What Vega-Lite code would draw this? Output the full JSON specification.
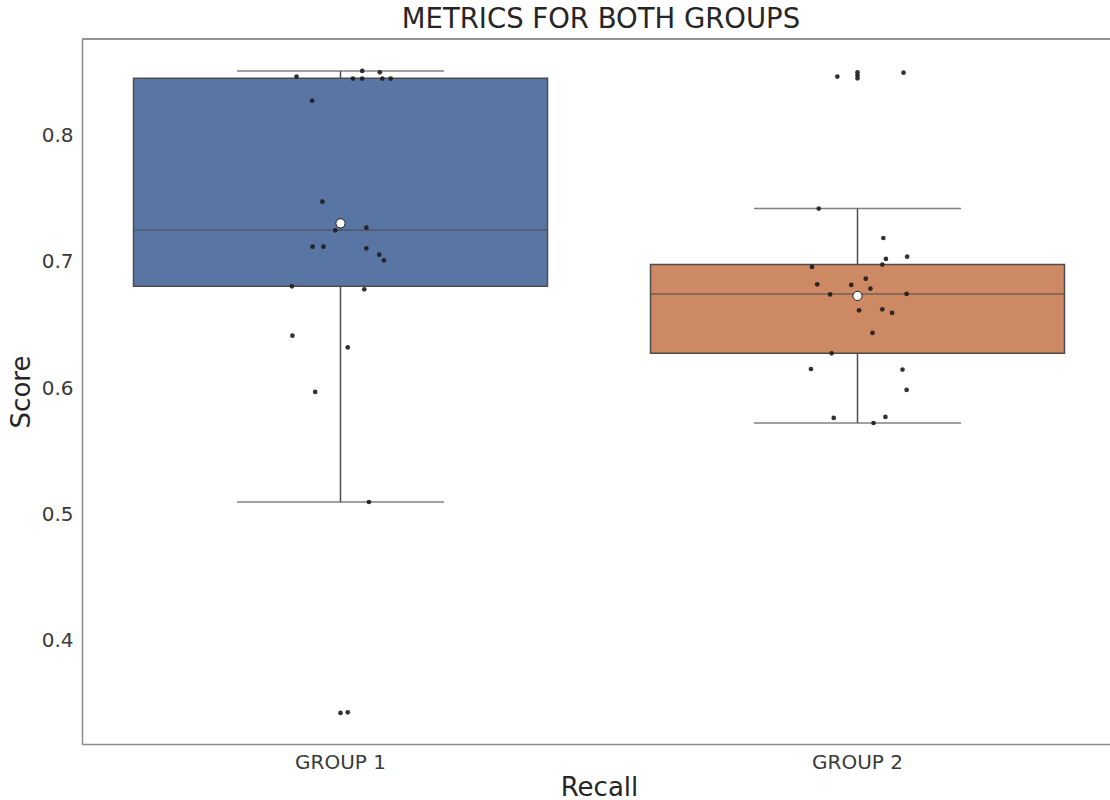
{
  "$schema": "https://vega.github.io/schema/vega-lite/v6.json",
  "autosize": {"type": "none"},
  "width": 1028,
  "height": 705,
  "padding": {"left": 82, "top": 39, "right": 0, "bottom": 56},
  "background": "white",
  "title": {"text": "METRICS FOR BOTH GROUPS", "font": "DejaVu Sans", "fontSize": 27.5, "fontWeight": "normal", "color": "#262626", "anchor": "middle", "offset": 5, "dx": 5},
  "config": {
    "view": {"stroke": null},
    "axis": {"grid": false, "ticks": false, "labelFont": "DejaVu Sans", "titleFont": "DejaVu Sans", "labelFontSize": 20, "titleFontSize": 26, "titleFontWeight": "normal", "labelColor": "#3a3a3a", "titleColor": "#262626", "domainColor": "#8c8c8c", "domainWidth": 1.5}
  },
  "datasets": {
    "points": [
      {"group": "GROUP 1", "score": 0.8513, "jitter": 0.042},
      {"group": "GROUP 1", "score": 0.8502, "jitter": 0.076},
      {"group": "GROUP 1", "score": 0.8468, "jitter": -0.085},
      {"group": "GROUP 1", "score": 0.8452, "jitter": 0.024},
      {"group": "GROUP 1", "score": 0.8452, "jitter": 0.042},
      {"group": "GROUP 1", "score": 0.8452, "jitter": 0.081},
      {"group": "GROUP 1", "score": 0.8452, "jitter": 0.097},
      {"group": "GROUP 1", "score": 0.8277, "jitter": -0.055},
      {"group": "GROUP 1", "score": 0.7477, "jitter": -0.035},
      {"group": "GROUP 1", "score": 0.7250, "jitter": -0.010},
      {"group": "GROUP 1", "score": 0.7271, "jitter": 0.050},
      {"group": "GROUP 1", "score": 0.7120, "jitter": -0.054},
      {"group": "GROUP 1", "score": 0.7120, "jitter": -0.033},
      {"group": "GROUP 1", "score": 0.7107, "jitter": 0.050},
      {"group": "GROUP 1", "score": 0.7057, "jitter": 0.075},
      {"group": "GROUP 1", "score": 0.7012, "jitter": 0.084},
      {"group": "GROUP 1", "score": 0.6806, "jitter": -0.094},
      {"group": "GROUP 1", "score": 0.6782, "jitter": 0.046},
      {"group": "GROUP 1", "score": 0.6415, "jitter": -0.093},
      {"group": "GROUP 1", "score": 0.6322, "jitter": 0.014},
      {"group": "GROUP 1", "score": 0.5969, "jitter": -0.049},
      {"group": "GROUP 1", "score": 0.5097, "jitter": 0.055},
      {"group": "GROUP 1", "score": 0.3425, "jitter": 0.000},
      {"group": "GROUP 1", "score": 0.3430, "jitter": 0.014},
      {"group": "GROUP 2", "score": 0.8468, "jitter": -0.039},
      {"group": "GROUP 2", "score": 0.8502, "jitter": 0.000},
      {"group": "GROUP 2", "score": 0.8478, "jitter": 0.000},
      {"group": "GROUP 2", "score": 0.8454, "jitter": 0.000},
      {"group": "GROUP 2", "score": 0.8499, "jitter": 0.089},
      {"group": "GROUP 2", "score": 0.7422, "jitter": -0.075},
      {"group": "GROUP 2", "score": 0.7189, "jitter": 0.050},
      {"group": "GROUP 2", "score": 0.7023, "jitter": 0.055},
      {"group": "GROUP 2", "score": 0.7041, "jitter": 0.096},
      {"group": "GROUP 2", "score": 0.6978, "jitter": 0.048},
      {"group": "GROUP 2", "score": 0.6960, "jitter": -0.088},
      {"group": "GROUP 2", "score": 0.6867, "jitter": 0.016},
      {"group": "GROUP 2", "score": 0.6822, "jitter": -0.078},
      {"group": "GROUP 2", "score": 0.6817, "jitter": -0.012},
      {"group": "GROUP 2", "score": 0.6788, "jitter": 0.025},
      {"group": "GROUP 2", "score": 0.6742, "jitter": -0.053},
      {"group": "GROUP 2", "score": 0.6746, "jitter": 0.095},
      {"group": "GROUP 2", "score": 0.6616, "jitter": 0.003},
      {"group": "GROUP 2", "score": 0.6624, "jitter": 0.048},
      {"group": "GROUP 2", "score": 0.6595, "jitter": 0.067},
      {"group": "GROUP 2", "score": 0.6437, "jitter": 0.029},
      {"group": "GROUP 2", "score": 0.6275, "jitter": -0.050},
      {"group": "GROUP 2", "score": 0.6151, "jitter": -0.090},
      {"group": "GROUP 2", "score": 0.6146, "jitter": 0.087},
      {"group": "GROUP 2", "score": 0.5985, "jitter": 0.095},
      {"group": "GROUP 2", "score": 0.5763, "jitter": -0.046},
      {"group": "GROUP 2", "score": 0.5771, "jitter": 0.054},
      {"group": "GROUP 2", "score": 0.5723, "jitter": 0.031}
    ],
    "stats": [
      {"group": "GROUP 1", "q1": 0.6806, "median": 0.7250, "q3": 0.8454, "lo": 0.5097, "hi": 0.8513, "mean": 0.7305},
      {"group": "GROUP 2", "q1": 0.6275, "median": 0.6746, "q3": 0.6978, "lo": 0.5723, "hi": 0.7422, "mean": 0.6730}
    ]
  },
  "layer": [
    {
      "data": {"name": "stats"},
      "mark": {"type": "rule", "color": "#4d4d4d", "strokeWidth": 1.5},
      "encoding": {
        "x": {"field": "group", "type": "nominal", "title": "Recall",
          "scale": {"domain": ["GROUP 1", "GROUP 2"], "range": [0, 1034], "paddingInner": 0, "paddingOuter": 0},
          "axis": {"labelAngle": 0, "labelPadding": 8, "titlePadding": 2, "domain": true}},
        "y": {"field": "lo", "type": "quantitative", "title": "Score",
          "scale": {"domain": [0.3179, 0.8766], "nice": false, "zero": false},
          "axis": {"values": [0.4, 0.5, 0.6, 0.7, 0.8], "format": ".1f", "labelPadding": 9, "titlePadding": 7}},
        "y2": {"field": "hi"}
      }
    },
    {
      "data": {"name": "stats"},
      "mark": {"type": "bar", "width": 414, "stroke": "#4d4d4d", "strokeWidth": 1.5},
      "encoding": {
        "x": {"field": "group", "type": "nominal"},
        "y": {"field": "q1", "type": "quantitative"},
        "y2": {"field": "q3"},
        "fill": {"field": "group", "type": "nominal", "scale": {"domain": ["GROUP 1", "GROUP 2"], "range": ["#5875a4", "#cc8963"]}, "legend": null}
      }
    },
    {
      "data": {"name": "stats"},
      "mark": {"type": "tick", "color": "#4d4d4d", "size": 414, "thickness": 1.5},
      "encoding": {"x": {"field": "group", "type": "nominal"}, "y": {"field": "median", "type": "quantitative"}}
    },
    {
      "data": {"name": "stats"},
      "mark": {"type": "tick", "color": "#4d4d4d", "size": 207, "thickness": 1.5},
      "encoding": {"x": {"field": "group", "type": "nominal"}, "y": {"field": "lo", "type": "quantitative"}}
    },
    {
      "data": {"name": "stats"},
      "mark": {"type": "tick", "color": "#4d4d4d", "size": 207, "thickness": 1.5},
      "encoding": {"x": {"field": "group", "type": "nominal"}, "y": {"field": "hi", "type": "quantitative"}}
    },
    {
      "data": {"name": "points"},
      "mark": {"type": "circle", "color": "#1c1c1c", "opacity": 0.9, "size": 22},
      "encoding": {
        "x": {"field": "group", "type": "nominal"},
        "y": {"field": "score", "type": "quantitative"},
        "xOffset": {"field": "jitter", "type": "quantitative", "scale": {"domain": [-0.5, 0.5]}}
      }
    },
    {
      "data": {"name": "stats"},
      "mark": {"type": "circle", "fill": "white", "stroke": "#1a1a1a", "strokeWidth": 1, "opacity": 1, "size": 85},
      "encoding": {"x": {"field": "group", "type": "nominal"}, "y": {"field": "mean", "type": "quantitative"}}
    },
    {
      "data": {"name": "stats"},
      "mark": {"type": "rule", "color": "#8c8c8c", "strokeWidth": 1.5},
      "encoding": {"y": {"datum": 0.8766, "type": "quantitative"}}
    }
  ]
}
